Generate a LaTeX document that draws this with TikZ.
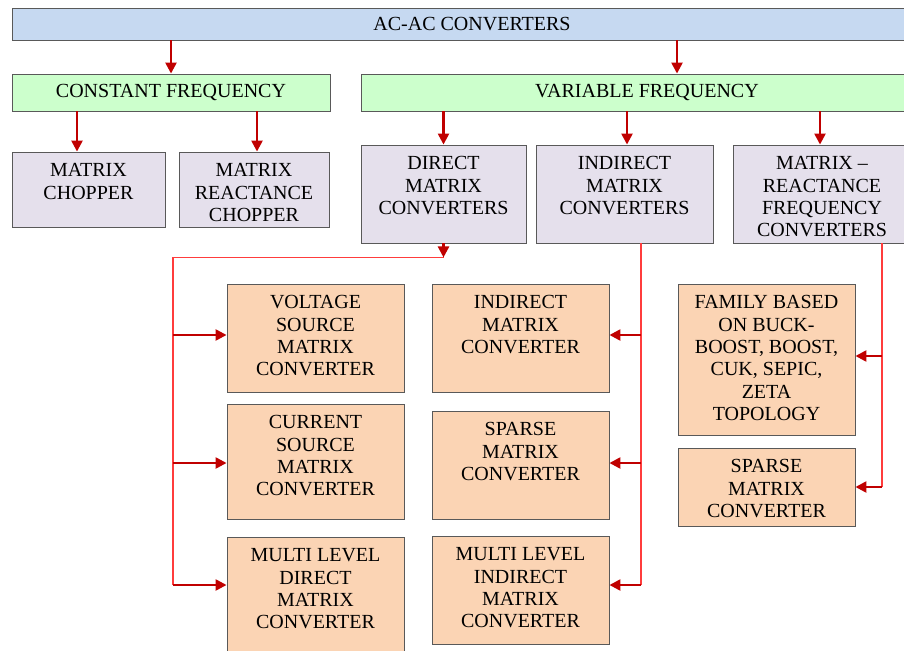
\documentclass[tikz,border=0pt]{standalone}
\usepackage{fontspec}
\setmainfont{Liberation Serif}
\usetikzlibrary{positioning, arrows.meta}

\definecolor{topblue}{RGB}{198,217,241}
\definecolor{lightgreen}{RGB}{204,255,204}
\definecolor{lavender}{RGB}{229,224,236}
\definecolor{peach}{RGB}{251,212,180}
\definecolor{boxgray}{RGB}{89,89,89}
\definecolor{arrowred}{RGB}{192,0,0}
\definecolor{busred}{RGB}{255,60,60}

\begin{document}
\begin{tikzpicture}[x=1pt, y=-1pt,
    every node/.style={font=\fontsize{20}{22.3}\selectfont},
    box/.style={draw=boxgray, line width=0.9pt, inner sep=0pt},
    boxtext/.style={label={[anchor=north, align=center, inner sep=0pt, yshift=-12pt]north:{#1}}},
    headbox/.style={box, fill=topblue},
    freqbox/.style={box, fill=lightgreen},
    typebox/.style={box, fill=lavender, boxtext={#1}},
    leafbox/.style={box, fill=peach, minimum width=177pt, boxtext={#1}},
    arr/.style={-{Triangle[length=11pt, width=11pt]}, line width=2.4pt, arrowred},
    bus/.style={line width=1.2pt, draw=busred}]

    \useasboundingbox (0,0) rectangle (904,650);
    \clip (0,0) rectangle (904,650);

    % Top levels
    \node[headbox, minimum width=920pt, minimum height=32pt] (acac) at (472,24) {AC-AC CONVERTERS};
    \node[freqbox, minimum width=318pt, minimum height=37pt] (cf) at (171,92.5) {CONSTANT FREQUENCY};
    \node[freqbox, minimum width=572pt, minimum height=37pt] (vf) at (647,92.5) {VARIABLE FREQUENCY};

    % Converter types
    \node[typebox={MATRIX\\CHOPPER}, minimum width=153pt, minimum height=75pt] (mc) at (88.5,189.5) {};
    \node[typebox={MATRIX\\REACTANCE\\CHOPPER}, minimum width=150pt, minimum height=75pt] (mrc) at (254,189.5) {};
    \node[typebox={DIRECT\\MATRIX\\CONVERTERS}, minimum width=165pt, minimum height=98pt] (dmc) at (443.5,194) {};
    \node[typebox={INDIRECT\\MATRIX\\CONVERTERS}, minimum width=177pt, minimum height=98pt] (imc) at (624.5,194) {};
    \node[typebox={MATRIX --\\REACTANCE\\FREQUENCY\\CONVERTERS}, minimum width=178pt, minimum height=98pt] (mrfc) at (822,194) {};

    % Topologies
    \node[leafbox={VOLTAGE\\SOURCE\\MATRIX\\CONVERTER}, minimum height=108pt] (vsmc) at (315.5,338) {};
    \node[leafbox={CURRENT\\SOURCE\\MATRIX\\CONVERTER}, minimum height=115pt] (csmc) at (315.5,461.5) {};
    \node[leafbox={MULTI LEVEL\\DIRECT\\MATRIX\\CONVERTER}, minimum height=124pt] (mldm) at (315.5,599) {};
    \node[leafbox={INDIRECT\\MATRIX\\CONVERTER}, minimum height=108pt] (imcv) at (520.5,338) {};
    \node[leafbox={SPARSE\\MATRIX\\CONVERTER}, minimum height=108pt] (smc) at (520.5,465) {};
    \node[leafbox={MULTI LEVEL\\INDIRECT\\MATRIX\\CONVERTER}, minimum height=108pt] (mlim) at (520.5,590) {};
    \node[leafbox={FAMILY BASED\\ON BUCK-\\BOOST, BOOST,\\CUK, SEPIC,\\ZETA\\TOPOLOGY}, minimum height=151pt] (fam) at (766.5,359.5) {};
    \node[leafbox={SPARSE\\MATRIX\\CONVERTER}, minimum height=78pt] (smcr) at (766.5,487) {};

    % Arrows between levels
    \draw[arr] (acac.south -| cf.north) -- (cf.north);
    \draw[arr] (acac.south -| vf.north) ++(30,0) coordinate (vtop) -- (vtop |- vf.north);
    \draw[arr] (cf.south -| mc.north) ++(-11.5,0) coordinate (mtop) -- (mtop |- mc.north);
    \draw[arr] (cf.south -| mrc.north) ++(3,0) coordinate (rtop) -- (rtop |- mrc.north);
    \draw[arr] (vf.south -| dmc.north) -- (dmc.north);
    \draw[arr] (vf.south -| imc.north) ++(2.5,0) coordinate (itop) -- (itop |- imc.north);
    \draw[arr] (vf.south -| mrfc.north) ++(-2,0) coordinate (ftop) -- (ftop |- mrfc.north);

    % Direct matrix bus
    \coordinate (dmcorner) at ([yshift=-14pt]dmc.south);
    \draw[bus] (dmcorner) -| (173,585);
    \draw[arr] (dmc.south) -- (dmcorner);
    \foreach \t/\yy [count=\i] in {vsmc/335, csmc/463, mldm/585} {
        \coordinate (d\i) at (173,\yy);
        \draw[arr] (d\i) -- (d\i -| \t.west);
    }

    % Indirect matrix bus
    \draw[bus] (imc.south -| 641,0) -- (641,585);
    \foreach \t/\yy [count=\i] in {imcv/335, smc/463, mlim/585} {
        \coordinate (n\i) at (641,\yy);
        \draw[arr] (n\i) -- (n\i -| \t.east);
    }

    % Matrix-reactance bus
    \draw[bus] (mrfc.south -| 882,0) -- (882,487);
    \foreach \t/\yy [count=\i] in {fam/356, smcr/487} {
        \coordinate (r\i) at (882,\yy);
        \draw[arr] (r\i) -- (r\i -| \t.east);
    }

\end{tikzpicture}
\end{document}
